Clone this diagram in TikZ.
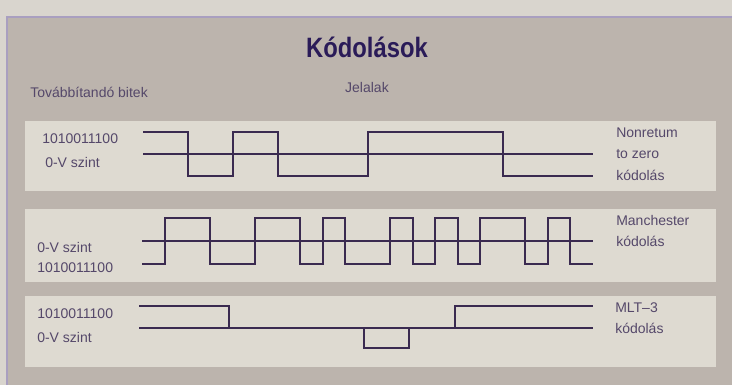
\documentclass[tikz,border=0pt]{standalone}
\usepackage{fontspec}
\setmainfont{Liberation Sans}
\usetikzlibrary{positioning}
\definecolor{bandC}{HTML}{D9D5CE}
\definecolor{panelC}{HTML}{BCB4AD}
\definecolor{stripC}{HTML}{DEDAD1}
\definecolor{edgeC}{HTML}{A99FC0}
\definecolor{inkC}{HTML}{3A2A50}
\definecolor{textC}{HTML}{55486A}
\definecolor{titleC}{HTML}{2A1B58}

\begin{document}
\begin{tikzpicture}[x=0.75pt,y=-0.75pt]
	\begin{scope}[
		strip/.style={fill=stripC,draw=none},
		signal/.style={draw=inkC,line width=1.9pt,line join=miter},
		zeroline/.style={draw=inkC,line width=1.1pt},
		lbl/.style={text=textC,font=\fontsize{10.5}{16}\selectfont,inner sep=0pt,anchor=west,align=left},
		heading/.style={text=titleC,font=\fontsize{21}{24}\selectfont\bfseries,inner sep=0pt,xscale=0.85}]
		% background and panel
		\useasboundingbox [fill=bandC] (0,0) rectangle (732,385);
		\fill [panelC] (7,17) rectangle (732,385);
		\draw [edgeC, line width=1.2pt] (7,385) -- (7,17) -- (732,17);
		\fill [strip] (25,121) rectangle (716,191);
		\fill [strip] (25,209) rectangle (716,282);
		\fill [strip] (25,296) rectangle (716,367);
		% headings
		\node [heading]		(title)		at (367,47)	{Kódolások};
		\node [lbl]		(bitek)		at (30,92)	{Továbbítandó bitek};
		\node [lbl, anchor=center]	(jelalak)	at (367,87)	{Jelalak};
		% nonreturn to zero
		\node [lbl]		(nrzbits)	at (42,139)	{1010011100};
		\node [lbl]		(nrzzero)	at (45,162)	{0-V szint};
		\node [lbl]		(nrzname)	at (616,154)	{Nonretum\\to zero\\kódolás};
		\draw [zeroline] (143,154) -- (593,154);
		\draw [signal] (143,132) -- (188,132) -- (188,176) -- (233,176) -- (233,132) -- (278,132)
			-- (278,176) -- (368,176) -- (368,132) -- (503,132) -- (503,176) -- (593,176);
		% manchester
		\node [lbl]		(manzero)	at (37,247)	{0-V szint};
		\node [lbl]		(manbits)	at (37,268)	{1010011100};
		\node [lbl]		(manname)	at (616,231)	{Manchester\\kódolás};
		\draw [zeroline] (142,241) -- (593,241);
		\draw [signal] (142,264) -- (165,264) -- (165,218) -- (210,218) -- (210,264) -- (255,264)
			-- (255,218) -- (300,218) -- (300,264) -- (323,264) -- (323,218) -- (345,218)
			-- (345,264) -- (390,264) -- (390,218) -- (413,218) -- (413,264) -- (435,264)
			-- (435,218) -- (458,218) -- (458,264) -- (480,264) -- (480,218) -- (525,218)
			-- (525,264) -- (548,264) -- (548,218) -- (570,218) -- (570,264) -- (593,264);
		% mlt-3
		\node [lbl]		(mltbits)	at (37,314)	{1010011100};
		\node [lbl]		(mltzero)	at (37,337)	{0-V szint};
		\node [lbl]		(mltname)	at (615,318)	{MLT–3\\kódolás};
		\draw [zeroline] (139,328) -- (593,328);
		\draw [signal] (139,306) -- (229,306) -- (229,328) -- (364,328) -- (364,348) -- (409,348)
			-- (409,328) -- (455,328) -- (455,306) -- (593,306);
	\end{scope}
\end{tikzpicture}
\end{document}
